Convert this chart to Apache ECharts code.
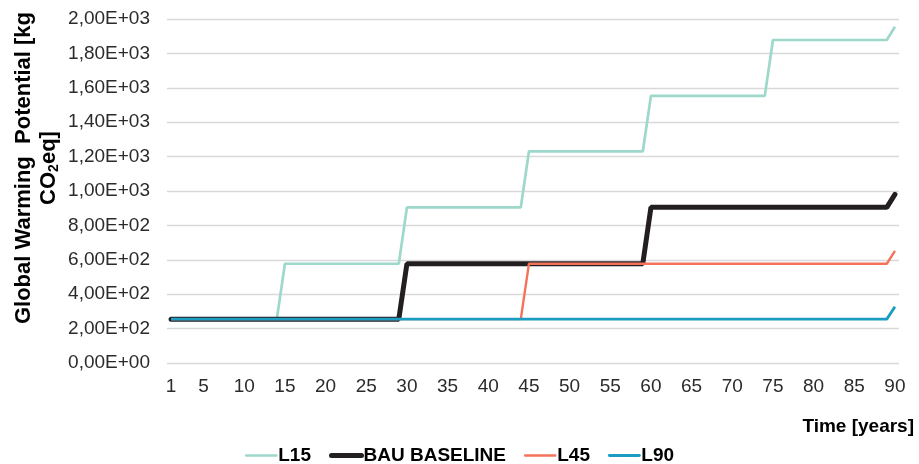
<!DOCTYPE html>
<html>
<head>
<meta charset="utf-8">
<script src="https://cdn.jsdelivr.net/npm/echarts@6/dist/echarts.min.js"></script>
<style>
html,body{margin:0;padding:0;background:#fff;}
#chart{width:919px;height:464px;}
</style>
</head>
<body>
<div id="chart"></div>
<script>
// Categories: years 1..90
const years = Array.from({length: 90}, (_, i) => String(i + 1));

const L15 = [
  255,255,255,255,255,255,255,255,255,255,255,255,255,255,
  577,577,577,577,577,577,577,577,577,577,577,577,577,577,577,
  905,905,905,905,905,905,905,905,905,905,905,905,905,905,905,
  1230,1230,1230,1230,1230,1230,1230,1230,1230,1230,1230,1230,1230,1230,1230,
  1553,1553,1553,1553,1553,1553,1553,1553,1553,1553,1553,1553,1553,1553,1553,
  1878,1878,1878,1878,1878,1878,1878,1878,1878,1878,1878,1878,1878,1878,1878,
  1955
];
const BAU = [
  255,255,255,255,255,255,255,255,255,255,255,255,255,255,255,255,255,255,255,255,255,255,255,255,255,255,255,255,255,
  577,577,577,577,577,577,577,577,577,577,577,577,577,577,577,577,577,577,577,577,577,577,577,577,577,577,577,577,577,577,
  905,905,905,905,905,905,905,905,905,905,905,905,905,905,905,905,905,905,905,905,905,905,905,905,905,905,905,905,905,905,
  980
];
const L45 = [
  255,255,255,255,255,255,255,255,255,255,255,255,255,255,255,255,255,255,255,255,255,255,
  255,255,255,255,255,255,255,255,255,255,255,255,255,255,255,255,255,255,255,255,255,255,
  577,577,577,577,577,577,577,577,577,577,577,577,577,577,577,577,577,577,577,577,577,577,577,
  577,577,577,577,577,577,577,577,577,577,577,577,577,577,577,577,577,577,577,577,577,577,
  652
];
const L90 = [
  255,255,255,255,255,255,255,255,255,255,255,255,255,255,255,255,255,255,255,255,255,255,255,255,255,255,255,255,255,255,
  255,255,255,255,255,255,255,255,255,255,255,255,255,255,255,255,255,255,255,255,255,255,255,255,255,255,255,255,255,255,
  255,255,255,255,255,255,255,255,255,255,255,255,255,255,255,255,255,255,255,255,255,255,255,255,255,255,255,255,255,
  327
];
const seriesNames = ['L15', 'BAU BASELINE', 'L45', 'L90'];
const xTickYears = ['1','5','10','15','20','25','30','35','40','45','50','55','60','65','70','75','80','85','90'];

const FONT = '"Liberation Sans", Arial, Helvetica, sans-serif';

function sci(v) {
  if (v === 0) return '0,00E+00';
  const e = Math.floor(Math.log10(v) + 1e-9);
  const m = (v / Math.pow(10, e)).toFixed(2).replace('.', ',');
  return m + 'E' + (e >= 0 ? '+' : '-') + String(Math.abs(e)).padStart(2, '0');
}

const chart = echarts.init(document.getElementById('chart'), null, {renderer: 'canvas'});
chart.setOption({
  animation: false,
  backgroundColor: '#ffffff',
  grid: {left: 167, right: 20, top: 19, bottom: 101, containLabel: false},
  legend: {
    data: seriesNames,
    left: 'center',
    top: 441,
    itemWidth: 30,
    itemHeight: 14,
    itemGap: 18,
    itemStyle: {opacity: 0},
    lineStyle: {width: 'inherit', cap: 'round'},
    textStyle: {fontFamily: FONT, fontSize: 19, fontWeight: 'bold', color: '#000', padding: [0, 0, 0, -3]}
  },
  xAxis: {
    type: 'category',
    data: years,
    boundaryGap: true,
    axisLine: {show: false},
    axisTick: {show: false},
    splitLine: {show: false},
    axisLabel: {
      interval: (idx, val) => xTickYears.indexOf(val) >= 0,
      fontFamily: FONT, fontSize: 19, color: '#2b2b2b', margin: 14
    }
  },
  yAxis: {
    type: 'value',
    min: 0, max: 2000, interval: 200,
    axisLine: {show: false},
    axisTick: {show: false},
    splitLine: {lineStyle: {color: '#d9d9d9', width: 1.3}},
    axisLabel: {
      formatter: sci,
      fontFamily: FONT, fontSize: 19, color: '#2b2b2b', margin: 17
    }
  },
  graphic: [
    {
      type: 'text',
      x: 36, y: 168,
      rotation: Math.PI / 2,
      style: {
        text: '{a|Global Warming  Potential [kg}\n{a|CO}{s|2}{a|eq]}',
        align: 'center',
        verticalAlign: 'middle',
        rich: {
          a: {fontFamily: FONT, fontSize: 22, fontWeight: 'bold', fill: '#000', lineHeight: 25},
          s: {fontFamily: FONT, fontSize: 14, fontWeight: 'bold', fill: '#000', lineHeight: 25, verticalAlign: 'bottom'}
        }
      }
    },
    {
      type: 'text',
      right: 5, top: 417,
      style: {
        text: 'Time [years]',
        font: 'bold 19px ' + FONT,
        fill: '#000'
      }
    }
  ],
  series: [
    {name: 'L15', type: 'line', data: L15, symbol: 'none', z: 2,
     lineStyle: {color: '#9dd8cb', width: 2.7}, itemStyle: {color: '#9dd8cb'}},
    {name: 'BAU BASELINE', type: 'line', data: BAU, symbol: 'none', z: 3,
     lineStyle: {color: '#231f20', width: 5, cap: 'round'}, itemStyle: {color: '#231f20'}},
    {name: 'L45', type: 'line', data: L45, symbol: 'none', z: 4,
     lineStyle: {color: '#f4735a', width: 2.4}, itemStyle: {color: '#f4735a'}},
    {name: 'L90', type: 'line', data: L90, symbol: 'none', z: 5,
     lineStyle: {color: '#1b9dc2', width: 2.8}, itemStyle: {color: '#1b9dc2'}}
  ]
});
</script>
</body>
</html>
